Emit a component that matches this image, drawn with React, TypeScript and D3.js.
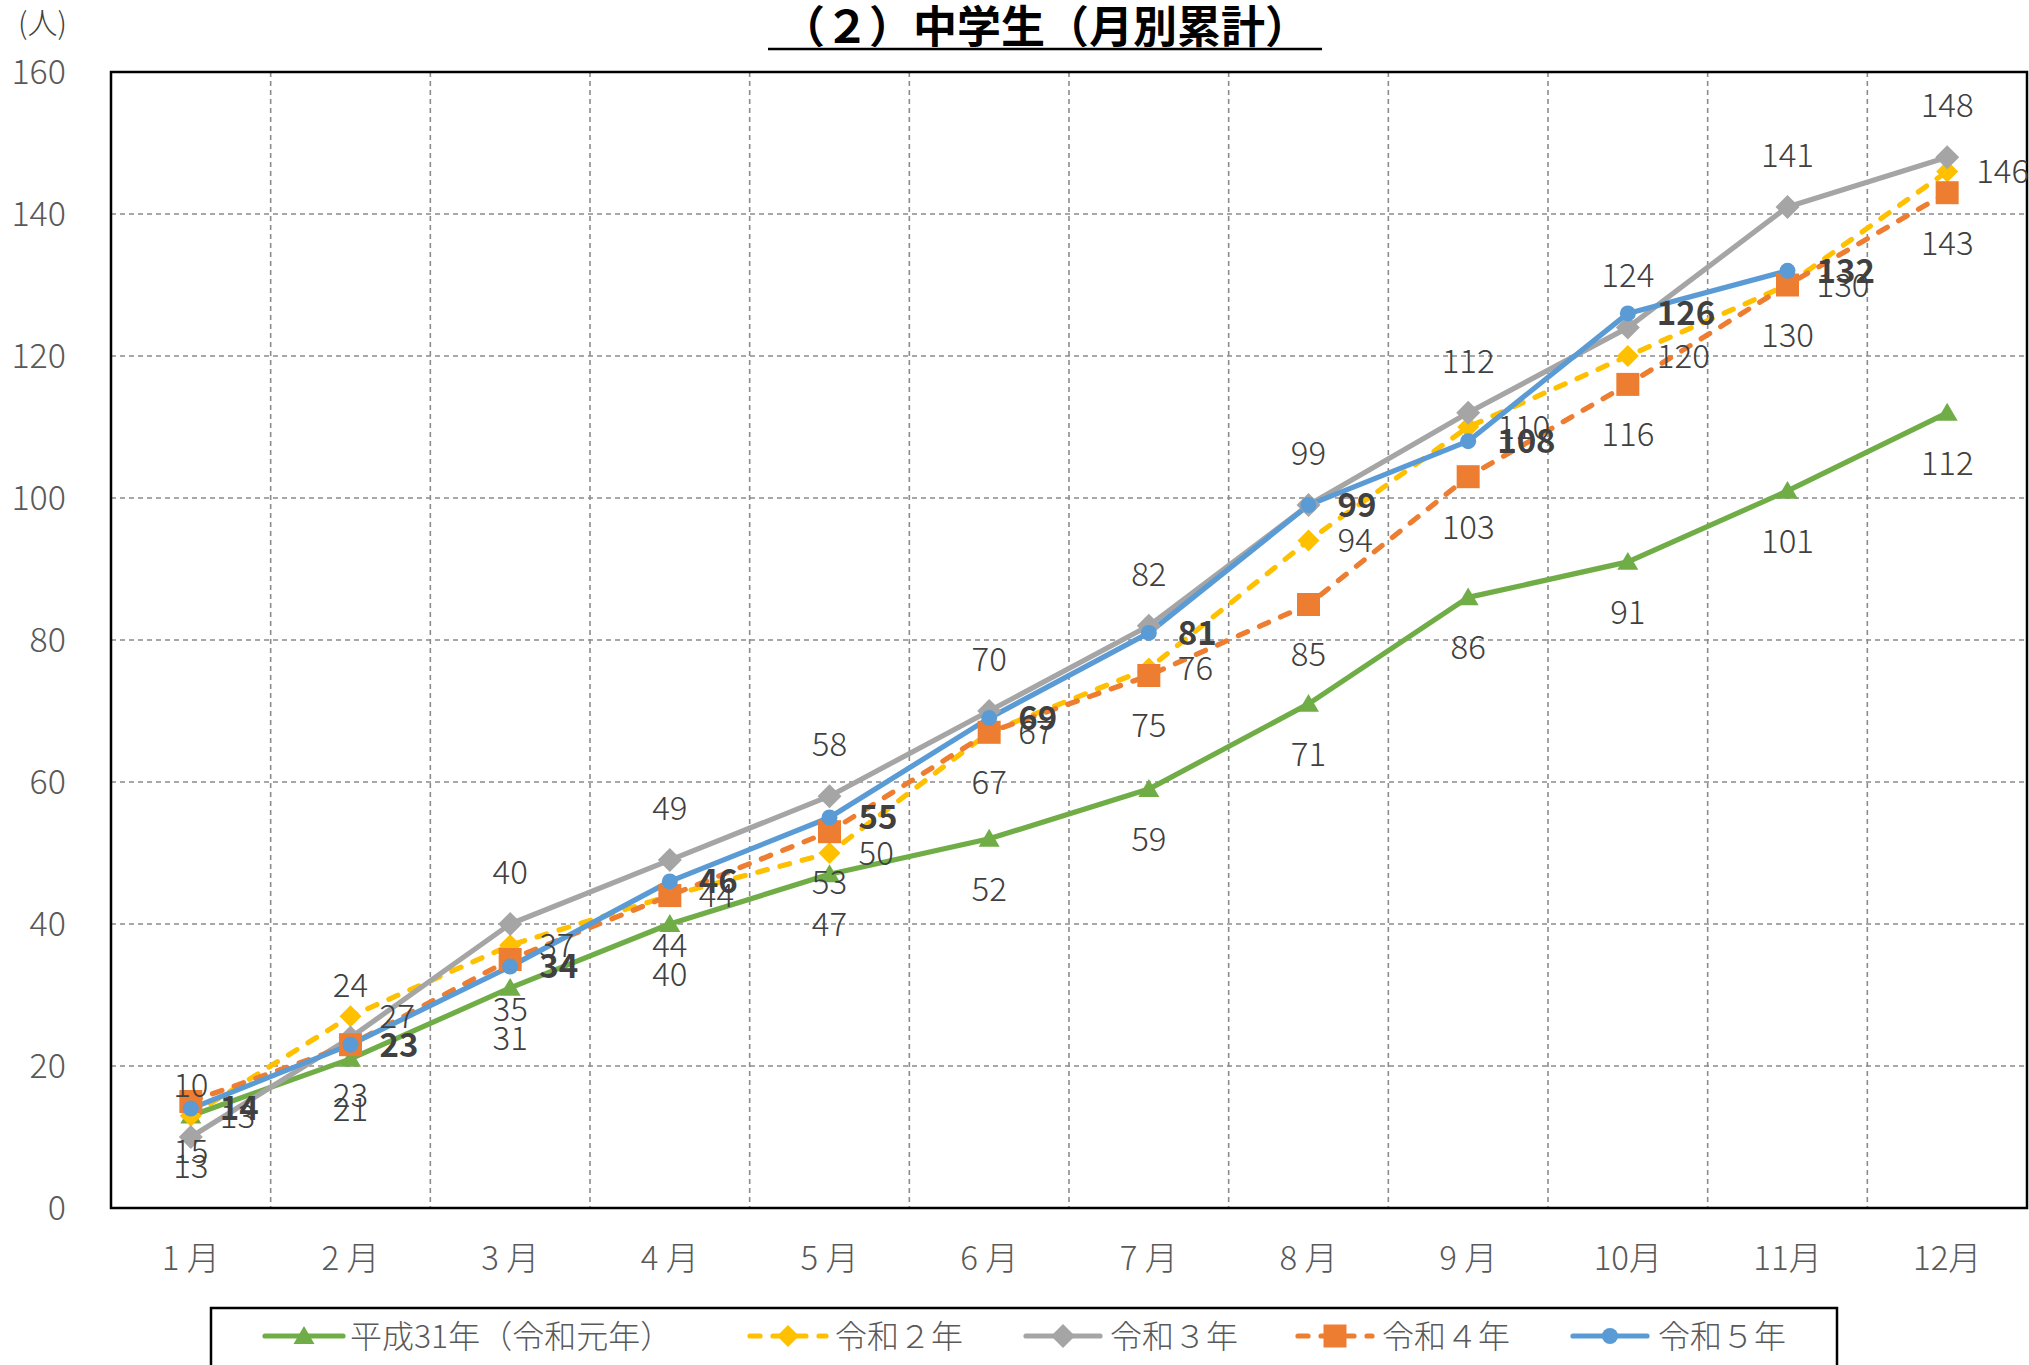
import React from "react";
import * as d3 from "d3";

// Monthly cumulative counts of junior-high students
const months = ["1 月", "2 月", "3 月", "4 月", "5 月", "6 月", "7 月", "8 月", "9 月", "10月", "11月", "12月"];
const heisei31 = [13, 21, 31, 40, 47, 52, 59, 71, 86, 91, 101, 112];
const reiwa2 = [13, 27, 37, 44, 50, 67, 76, 94, 110, 120, 130, 146];
const reiwa3 = [10, 24, 40, 49, 58, 70, 82, 99, 112, 124, 141, 148];
const reiwa4 = [15, 23, 35, 44, 53, 67, 75, 85, 103, 116, 130, 143];
const reiwa5 = [14, 23, 34, 46, 55, 69, 81, 99, 108, 126, 132];
const yTicks = [0, 20, 40, 60, 80, 100, 120, 140, 160];
const seriesNames = ["平成31年（令和元年）", "令和２年", "令和３年", "令和４年", "令和５年"];

type Marker = "triangle" | "diamond" | "square" | "circle";
type LabelPos = "above" | "below" | "right";

interface Series {
  name: string;
  values: number[];
  color: string;
  dashed: boolean;
  marker: Marker;
  markerSize: number;
  label: LabelPos;
  bold: boolean;
}

const series: Series[] = [
  { name: seriesNames[0], values: heisei31, color: "#70ad47", dashed: false, marker: "triangle", markerSize: 21, label: "below", bold: false },
  { name: seriesNames[1], values: reiwa2, color: "#ffc000", dashed: true, marker: "diamond", markerSize: 22, label: "right", bold: false },
  { name: seriesNames[2], values: reiwa3, color: "#a5a5a5", dashed: false, marker: "diamond", markerSize: 24, label: "above", bold: false },
  { name: seriesNames[3], values: reiwa4, color: "#ed7d31", dashed: true, marker: "square", markerSize: 23, label: "below", bold: false },
  { name: seriesNames[4], values: reiwa5, color: "#5b9bd5", dashed: false, marker: "circle", markerSize: 16, label: "right", bold: true },
];

const W = 2029;
const H = 1365;
const plot = { left: 111, right: 2027, top: 72, bottom: 1208 };
const FONT = "'Noto Sans CJK JP', 'Noto Sans', sans-serif";

function markerPath(m: Marker, s: number): string {
  const h = s / 2;
  switch (m) {
    case "triangle":
      return `M0,${-h * 0.95}L${h},${h * 0.75}L${-h},${h * 0.75}Z`;
    case "diamond":
      return `M0,${-h}L${h},0L0,${h}L${-h},0Z`;
    case "square":
      return `M${-h},${-h}H${h}V${h}H${-h}Z`;
    default:
      return d3.symbol().type(d3.symbolCircle).size(Math.PI * h * h)() || "";
  }
}

export default function App() {
  const x = d3.scaleBand<string>().domain(months).range([plot.left, plot.right]).padding(0);
  const y = d3.scaleLinear().domain([0, 160]).range([plot.bottom, plot.top]);
  const cx = (i: number) => (x(months[i]) as number) + x.bandwidth() / 2;

  const line = d3
    .line<number>()
    .x((_, i) => cx(i))
    .y((v) => y(v));

  const legendItems = [
    { x0: 265, x1: 343, tx: 350 },
    { x0: 750, x1: 826, tx: 835 },
    { x0: 1026, x1: 1100, tx: 1110 },
    { x0: 1298, x1: 1372, tx: 1382 },
    { x0: 1573, x1: 1647, tx: 1658 },
  ];

  return (
    <svg
      width={W}
      height={H}
      viewBox={`0 0 ${W} ${H}`}
      style={{ position: "absolute", left: 0, top: 0, background: "#fff" }}
      fontFamily={FONT}
    >
      <rect x={0} y={0} width={W} height={H} fill="#fff" />

      {/* title */}
      <text x={1045} y={43} textAnchor="middle" fontSize={44} fontWeight="bold" fill="#000">
        （２）中学生（月別累計）
      </text>
      <line x1={768} x2={1322} y1={49} y2={49} stroke="#000" strokeWidth={2.5} />

      {/* unit */}
      <text x={18} y={34} fontSize={30} fontWeight={300} fill="#404040">
        (人)
      </text>

      {/* horizontal grid */}
      {yTicks.slice(1, -1).map((t) => (
        <line
          key={`hg${t}`}
          x1={plot.left}
          x2={plot.right}
          y1={y(t)}
          y2={y(t)}
          stroke="#8c8c8c"
          strokeWidth={1.6}
          strokeDasharray="5 4"
        />
      ))}
      {/* vertical grid */}
      {months.slice(1).map((m) => (
        <line
          key={`vg${m}`}
          x1={x(m) as number}
          x2={x(m) as number}
          y1={plot.top}
          y2={plot.bottom}
          stroke="#8c8c8c"
          strokeWidth={1.6}
          strokeDasharray="5 4"
        />
      ))}

      {/* plot frame */}
      <rect
        x={plot.left}
        y={plot.top}
        width={plot.right - plot.left}
        height={plot.bottom - plot.top}
        fill="none"
        stroke="#000"
        strokeWidth={2.5}
      />

      {/* y tick labels */}
      {yTicks.map((t) => (
        <text key={`yt${t}`} x={66} y={y(t)} dy="0.36em" textAnchor="end" fontSize={34} fontWeight={300} fill="#595959">
          {t}
        </text>
      ))}

      {/* x tick labels */}
      {months.map((m, i) => (
        <text key={`xt${m}`} x={cx(i)} y={1258} dy="0.36em" textAnchor="middle" fontSize={33} fontWeight={300} fill="#595959">
          {m}
        </text>
      ))}

      {/* lines */}
      {series.map((s) => (
        <path
          key={`ln${s.name}`}
          d={line(s.values) || ""}
          fill="none"
          stroke={s.color}
          strokeWidth={5.2}
          strokeLinejoin="round"
          strokeLinecap="round"
          strokeDasharray={s.dashed ? "10 13" : undefined}
        />
      ))}

      {/* markers */}
      {series.map((s) =>
        s.values.map((v, i) => (
          <path
            key={`mk${s.name}${i}`}
            d={markerPath(s.marker, s.markerSize)}
            transform={`translate(${cx(i)},${y(v)})`}
            fill={s.color}
          />
        ))
      )}

      {/* data labels */}
      {series.map((s) =>
        s.values.map((v, i) => {
          let lx = cx(i);
          let ly = y(v);
          let anchor: "middle" | "start" = "middle";
          if (s.label === "above") ly -= 52;
          else if (s.label === "below") ly += 50;
          else {
            lx += 29;
            anchor = "start";
          }
          return (
            <text
              key={`lb${s.name}${i}`}
              x={lx}
              y={ly}
              dy="0.36em"
              textAnchor={anchor}
              fontSize={33}
              fontWeight={s.bold ? "bold" : 300}
              fill="#404040"
            >
              {v}
            </text>
          );
        })
      )}

      {/* legend */}
      <rect x={211} y={1308} width={1626} height={80} fill="#fff" stroke="#000" strokeWidth={2.5} />
      {series.map((s, k) => {
        const it = legendItems[k];
        const my = 1336;
        return (
          <g key={`lg${s.name}`}>
            <line
              x1={it.x0}
              x2={it.x1}
              y1={my}
              y2={my}
              stroke={s.color}
              strokeWidth={5.2}
              strokeLinecap="round"
              strokeDasharray={s.dashed ? "10 13" : undefined}
            />
            <path
              d={markerPath(s.marker, s.markerSize)}
              transform={`translate(${(it.x0 + it.x1) / 2},${my})`}
              fill={s.color}
            />
            <text x={it.tx} y={my} dy="0.36em" fontSize={32} fontWeight={300} fill="#595959">
              {s.name}
            </text>
          </g>
        );
      })}
    </svg>
  );
}
